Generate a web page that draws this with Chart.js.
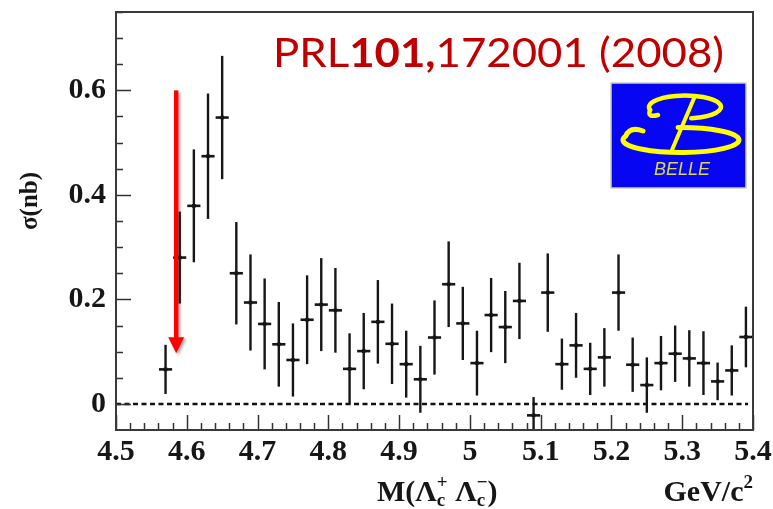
<!DOCTYPE html>
<html>
<head>
<meta charset="utf-8">
<script src="https://cdn.jsdelivr.net/npm/chart.js@4.4.1/dist/chart.umd.min.js"></script>
<style>
  html, body { margin: 0; padding: 0; background: #fff; }
  #wrap { width: 773px; height: 509px; }
</style>
</head>
<body>
<div id="wrap"><canvas id="chart" width="773" height="509"></canvas></div>
<script>
// e+e- -> Lambda_c+ Lambda_c- cross section (Belle, PRL 101, 172001)
const masses = [
    4.57, 4.59, 4.61, 4.63, 4.65, 4.67, 4.69, 4.71, 4.73, 4.75,
    4.77, 4.79, 4.81, 4.83, 4.85, 4.87, 4.89, 4.91, 4.93, 4.95,
    4.97, 4.99, 5.01, 5.03, 5.05, 5.07, 5.09, 5.11, 5.13, 5.15,
    5.17, 5.19, 5.21, 5.23, 5.25, 5.27, 5.29, 5.31, 5.33, 5.35,
    5.37, 5.39
];
const sigma = [
    0.066, 0.280, 0.379, 0.474, 0.548, 0.250, 0.194, 0.153, 0.114, 0.084,
    0.161, 0.190, 0.179, 0.067, 0.101, 0.157, 0.115, 0.076, 0.047, 0.127,
    0.229, 0.154, 0.078, 0.170, 0.147, 0.197, -0.022, 0.213, 0.076, 0.112,
    0.067, 0.089, 0.213, 0.075, 0.036, 0.078, 0.096, 0.087, 0.078, 0.043,
    0.064, 0.128
];
const sigmaErr = [
    0.047, 0.088, 0.108, 0.120, 0.118, 0.098, 0.092, 0.087, 0.081, 0.070,
    0.085, 0.089, 0.081, 0.068, 0.073, 0.080, 0.077, 0.064, 0.064, 0.071,
    0.082, 0.070, 0.062, 0.071, 0.069, 0.073, 0.035, 0.075, 0.049, 0.062,
    0.050, 0.056, 0.073, 0.052, 0.053, 0.052, 0.054, 0.054, 0.061, 0.036,
    0.048, 0.058
];
const binHalfWidth = 0.01;

const xTickLabels = ['4.5', '4.6', '4.7', '4.8', '4.9', '5', '5.1', '5.2', '5.3', '5.4'];
const yTickLabels = ['0', '0.2', '0.4', '0.6'];

// dashed zero line and the red threshold arrow (data units)
const zeroLine = [{ x: 4.5, y: 0 }, { x: 5.393, y: 0 }];
const arrowMass = 4.585;
const arrowFrom = 0.60;
const arrowTo = 0.097;

const serif = '"Liberation Serif", "Times New Roman", serif';
const ink = '#161616';

// error bars: vertical = stat. error, horizontal = bin width
const errorBars = {
    id: 'errorBars',
    afterDatasetsDraw(chart) {
        const { ctx, chartArea: a, scales: { x, y } } = chart;
        ctx.save();
        ctx.beginPath();
        ctx.rect(a.left, a.top, a.right - a.left, a.bottom - a.top);
        ctx.clip();
        ctx.strokeStyle = ink;
        masses.forEach((m, i) => {
            const px = x.getPixelForValue(m);
            const py = y.getPixelForValue(sigma[i]);
            ctx.lineWidth = 2.4;
            ctx.beginPath();
            ctx.moveTo(px, y.getPixelForValue(sigma[i] + sigmaErr[i]));
            ctx.lineTo(px, y.getPixelForValue(sigma[i] - sigmaErr[i]));
            ctx.stroke();
            ctx.lineWidth = 2.6;
            ctx.beginPath();
            ctx.moveTo(x.getPixelForValue(m - binHalfWidth) + 0.5, py);
            ctx.lineTo(x.getPixelForValue(m + binHalfWidth) - 0.5, py);
            ctx.stroke();
        });
        ctx.restore();
    }
};

// ROOT style frame with ticks pointing inwards
const frameAndTicks = {
    id: 'frameAndTicks',
    afterDatasetsDraw(chart) {
        const { ctx, chartArea: a, scales: { x, y } } = chart;
        ctx.save();
        ctx.strokeStyle = '#333';
        ctx.lineWidth = 1.5;
        ctx.beginPath();
        for (let i = 0; i <= 45; i++) {
            const px = Math.round(x.getPixelForValue(4.5 + i * 0.02)) + 0.5;
            const len = i % 5 === 0 ? 15 : 7;
            ctx.moveTo(px, a.bottom);
            ctx.lineTo(px, a.bottom - len);
        }
        for (let i = 0; i <= 15; i++) {
            const py = Math.round(y.getPixelForValue(i * 0.05)) + 0.5;
            const len = i % 4 === 0 ? 15 : 7;
            ctx.moveTo(a.left, py);
            ctx.lineTo(a.left + len, py);
        }
        ctx.stroke();
        ctx.lineWidth = 2;
        ctx.strokeStyle = '#3a3a3a';
        ctx.strokeRect(a.left, a.top, a.right - a.left, a.bottom - a.top);
        ctx.restore();
    }
};

function drawBelleLogo(ctx, x0, y0, w, h) {
    ctx.save();
    ctx.fillStyle = '#0606f2';
    ctx.fillRect(x0, y0, w, h);
    ctx.strokeStyle = '#cfcfb4';
    ctx.lineWidth = 1.5;
    ctx.strokeRect(x0, y0, w, h);
    ctx.translate(x0, y0);
    ctx.strokeStyle = '#ffff00';
    ctx.lineCap = 'round';
    ctx.lineWidth = 5;
    // lower bowl
    ctx.beginPath();
    ctx.ellipse(70, 57, 58, 12.5, 0, -Math.PI / 2 - 0.05, Math.PI + 0.3, false);
    ctx.quadraticCurveTo(19, 43, 32, 48);
    ctx.stroke();
    // upper loop
    ctx.lineWidth = 4.5;
    ctx.beginPath();
    ctx.ellipse(74, 24, 36, 11.5, 0, Math.PI * 165 / 180, Math.PI * 440 / 180, false);
    ctx.stroke();
    ctx.beginPath();
    ctx.moveTo(39, 27);
    ctx.quadraticCurveTo(36, 35, 47, 32);
    ctx.stroke();
    // stem
    ctx.lineWidth = 4;
    ctx.beginPath();
    ctx.moveTo(84, 13);
    ctx.lineTo(61, 67);
    ctx.stroke();
    ctx.fillStyle = '#d8d84c';
    ctx.font = 'italic 18px "Liberation Sans", Arial, sans-serif';
    ctx.textAlign = 'center';
    ctx.textBaseline = 'middle';
    ctx.fillText('BELLE', 71, 87);
    ctx.restore();
}

// draws runs of text, [text, font, dy] ; stacked pairs share the same x
function drawRuns(ctx, runs, x, y) {
    let cx = x;
    runs.forEach(r => {
        if (Array.isArray(r[0])) {
            let wmax = 0;
            r.forEach(s => {
                ctx.font = s[1];
                ctx.fillText(s[0], cx, y + s[2]);
                wmax = Math.max(wmax, ctx.measureText(s[0]).width);
            });
            cx += wmax;
        } else {
            ctx.font = r[1];
            ctx.fillText(r[0], cx, y + r[2]);
            cx += ctx.measureText(r[0]).width;
        }
    });
    return cx - x;
}

function runsWidth(ctx, runs) {
    let w = 0;
    runs.forEach(r => {
        if (Array.isArray(r[0])) {
            w += Math.max(...r.map(s => { ctx.font = s[1]; return ctx.measureText(s[0]).width; }));
        } else {
            ctx.font = r[1];
            w += ctx.measureText(r[0]).width;
        }
    });
    return w;
}

const decorations = {
    id: 'decorations',
    afterDraw(chart) {
        const { ctx, chartArea: a, scales: { x, y } } = chart;
        ctx.save();

        // axis titles
        const big = 'bold 30px ' + serif;
        const small = 'bold 19px ' + serif;
        ctx.fillStyle = ink;
        ctx.textBaseline = 'alphabetic';
        ctx.textAlign = 'left';
        drawRuns(ctx, [
            ['M(\u039B', big, 0],
            [['+', small, -13], ['c', small, 5]],
            [' \u039B', big, 0],
            [['\u2212', small, -13], ['c', small, 5]],
            [')', big, 0]
        ], 377, 501);
        const unitRuns = [['GeV/c', big, 0], ['2', small, -13]];
        drawRuns(ctx, unitRuns, a.right - runsWidth(ctx, unitRuns), 501);

        ctx.save();
        ctx.translate(31, 201);
        ctx.rotate(-Math.PI / 2);
        ctx.textAlign = 'center';
        ctx.textBaseline = 'middle';
        ctx.font = 'bold 25px ' + serif;
        ctx.fillText('\u03C3(nb)', 0, 0);
        ctx.restore();

        // publication tag
        const sans = 'Lato, "Noto Sans", sans-serif';
        const tag = [['PRL', '40px ' + sans, 0], ['101,', 'bold 40px ' + sans, 0], ['172001 (2008)', '40px ' + sans, 0]];
        const tw = runsWidth(ctx, tag);
        ctx.save();
        ctx.translate(a.right - 29 - 451, 67);
        ctx.scale(451 / tw, 1);
        ctx.fillStyle = '#c00000';
        drawRuns(ctx, tag, 0, 0);
        ctx.restore();

        drawBelleLogo(ctx, a.right - 142, a.top + 71, 135, 105);

        // red arrow
        const ax = x.getPixelForValue(arrowMass);
        const aTop = y.getPixelForValue(arrowFrom);
        const aTip = y.getPixelForValue(arrowTo);
        ctx.shadowColor = 'rgba(0,0,0,0.35)';
        ctx.shadowBlur = 3;
        ctx.shadowOffsetX = 2;
        ctx.shadowOffsetY = 2;
        ctx.fillStyle = '#ff0000';
        ctx.fillRect(ax - 2.2, aTop, 4.4, aTip - 15 - aTop);
        ctx.beginPath();
        ctx.moveTo(ax - 8, aTip - 16);
        ctx.lineTo(ax + 8, aTip - 16);
        ctx.lineTo(ax, aTip);
        ctx.closePath();
        ctx.fill();
        ctx.restore();
    }
};

new Chart(document.getElementById('chart'), {
    type: 'scatter',
    data: {
        datasets: [
            {
                label: 'zero',
                data: zeroLine,
                showLine: true,
                borderColor: '#111',
                borderWidth: 2.5,
                borderDash: [5, 3.5],
                pointRadius: 0
            },
            {
                label: 'sigma',
                data: masses.map((m, i) => ({ x: m, y: sigma[i] })),
                pointStyle: 'rect',
                pointRadius: 2.6,
                backgroundColor: ink,
                borderColor: ink,
                borderWidth: 0
            }
        ]
    },
    options: {
        responsive: false,
        animation: false,
        devicePixelRatio: 1,
        layout: { padding: { top: 12, right: 20, left: 0, bottom: 0 } },
        plugins: {
            legend: { display: false },
            tooltip: { enabled: false }
        },
        scales: {
            x: {
                type: 'linear',
                min: 4.5,
                max: 5.4,
                grid: { display: false, drawTicks: false },
                border: { display: false },
                afterBuildTicks: s => { s.ticks = xTickLabels.map(l => ({ value: parseFloat(l) })); },
                afterFit: s => { s.height = 79; s.paddingLeft = 0; s.paddingRight = 0; },
                ticks: {
                    autoSkip: false,
                    maxRotation: 0,
                    padding: 4,
                    color: ink,
                    font: { family: serif, weight: 'bold', size: 30 },
                    callback: (v, i) => xTickLabels[i]
                }
            },
            y: {
                type: 'linear',
                min: -0.05,
                max: 0.75,
                grid: { display: false, drawTicks: false },
                border: { display: false },
                afterBuildTicks: s => { s.ticks = yTickLabels.map(l => ({ value: parseFloat(l) })); },
                afterFit: s => { s.width = 116; s.paddingTop = 0; s.paddingBottom = 0; },
                ticks: {
                    autoSkip: false,
                    padding: 10,
                    color: ink,
                    font: { family: serif, weight: 'bold', size: 30 },
                    callback: (v, i) => yTickLabels[i]
                }
            }
        }
    },
    plugins: [errorBars, frameAndTicks, decorations]
});
</script>
</body>
</html>
